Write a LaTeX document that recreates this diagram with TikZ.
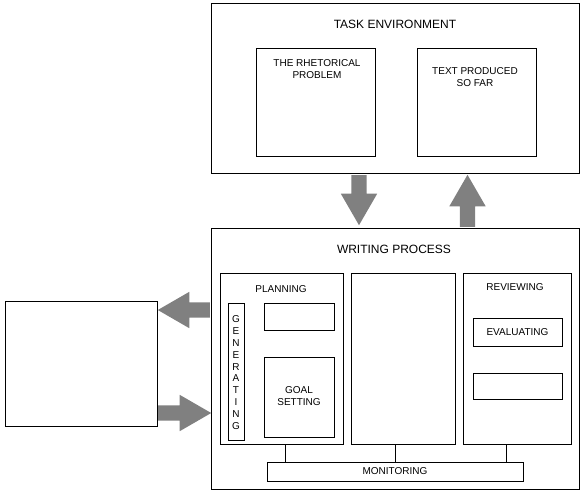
\documentclass[tikz,border=0pt]{standalone}
\usepackage{fontspec}
\setmainfont{Liberation Sans}
\usetikzlibrary{positioning,shapes.arrows}

\begin{document}
\begin{tikzpicture}[
  x=1pt, y=-1pt,
  font=\fontsize{10}{12}\selectfont,
  box/.style={draw, rectangle, line width=0.8pt, inner sep=0pt},
  caption/.style={align=center, inner sep=0pt},
  title/.style={caption, font=\fontsize{12}{14}\selectfont},
  bigarrow/.style={single arrow, draw=none, fill=black!50, anchor=tail,
    inner xsep=0pt, inner ysep=7.5pt, single arrow head extend=10.5pt,
    single arrow tip angle=60},
  upright/.style={inner xsep=7.5pt, inner ysep=0pt},
  link/.style={line width=0.8pt}
]
\useasboundingbox (0,0) rectangle (588,499);

% task environment
\node[box, minimum width=368pt, minimum height=170pt] (task) at (395,88) {};
\node[title] (tasktitle) at (395,24) {TASK ENVIRONMENT};
\node[box, minimum width=119pt, minimum height=108pt] (rhet) at (315.5,102) {};
\node[caption] (rhettext) at (317,69) {THE RHETORICAL\\PROBLEM};
\node[box, minimum width=119pt, minimum height=108pt] (sofar) at (476.5,102) {};
\node[caption] (sofartext) at (475,77.5) {TEXT PRODUCED\\SO FAR};

% exchange arrows
\node[bigarrow, upright, minimum height=50pt, shape border rotate=270] (down) at (359,175) {};
\node[bigarrow, upright, minimum height=52pt, shape border rotate=90] (up) at (467.5,227) {};

% writing process
\node[box, minimum width=368pt, minimum height=261pt] (writing) at (395,358.5) {};
\node[title] (writingtitle) at (394,249) {WRITING PROCESS};

\node[box, minimum width=123pt, minimum height=171pt] (planning) at (281.5,358.5) {};
\node[caption] (planningtitle) at (281,289) {PLANNING};
\node[box, minimum width=16pt, minimum height=137pt] (gen) at (236,371.5) {};
\node[caption, font=\fontsize{10}{11.9}\selectfont] (gentext) at (236,372.5)
  {G\\E\\N\\E\\R\\A\\T\\I\\N\\G};
\node[box, minimum width=70pt, minimum height=27pt] (organize) at (299,316.5) {};
\node[box, minimum width=70pt, minimum height=80pt] (goal) at (299,397) {};
\node[caption] (goaltext) at (299,396) {GOAL\\SETTING};

\node[box, minimum width=104pt, minimum height=171pt] (translate) at (403,358.5) {};

\node[box, minimum width=108pt, minimum height=171pt] (reviewing) at (517,358.5) {};
\node[caption] (reviewingtitle) at (515,287) {REVIEWING};
\node[box, minimum width=89pt, minimum height=28pt] (eval) at (517.5,332) {EVALUATING};
\node[box, minimum width=89pt, minimum height=26pt] (revise) at (517.5,386) {};

\node[box, minimum width=256pt, minimum height=19pt] (monitor) at (395,471.5) {MONITORING};
\draw[link] ([xshift=-110pt]monitor.north) -- ([xshift=-110pt]monitor.north |- planning.south);
\draw[link] (monitor.north) -- (monitor.north |- translate.south);
\draw[link] ([xshift=111pt]monitor.north) -- ([xshift=111pt]monitor.north |- reviewing.south);

% long-term memory
\node[box, minimum width=152pt, minimum height=125pt] (memory) at (81,363.5) {};
\node[bigarrow, minimum height=52pt, shape border rotate=180] (recall) at (210,310) {};
\node[bigarrow, minimum height=53pt] (store) at (158,413) {};
\end{tikzpicture}
\end{document}
